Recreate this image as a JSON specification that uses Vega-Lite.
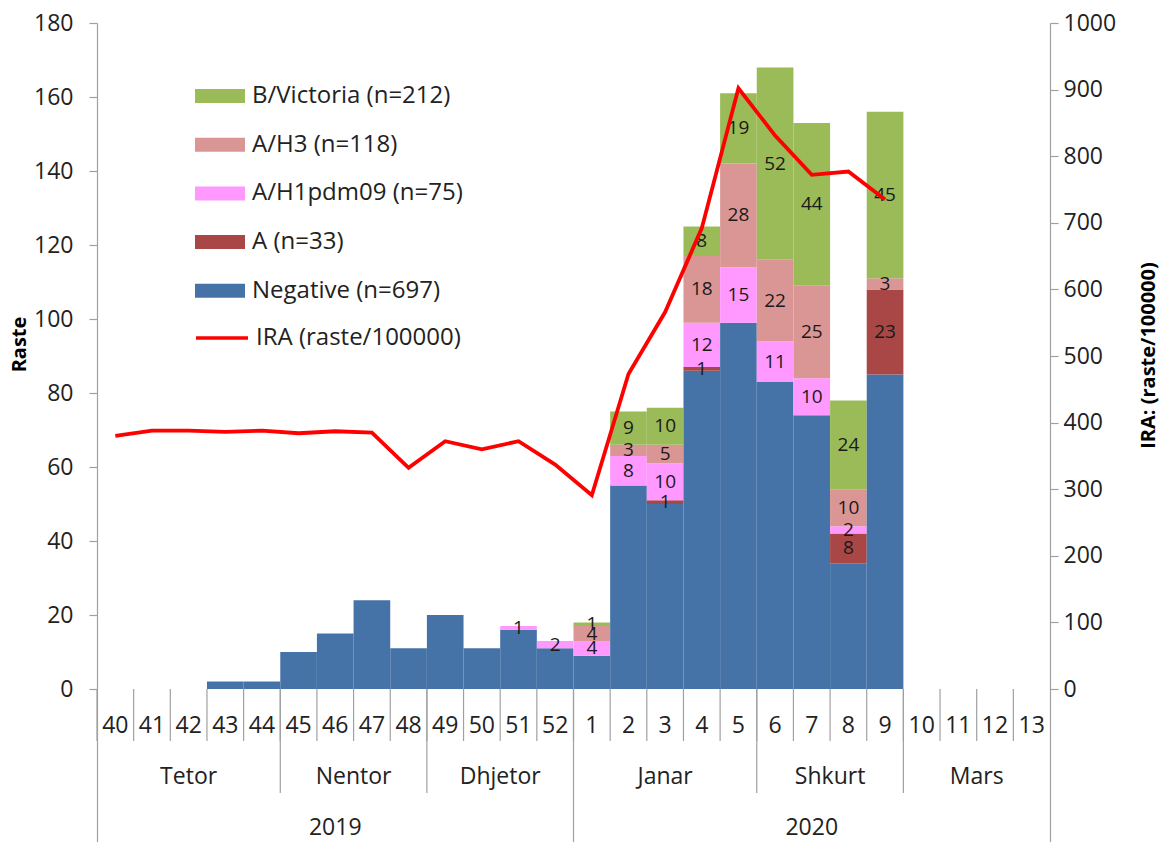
{
  "$schema": "https://vega.github.io/schema/vega-lite/v6.json",
  "autosize": "none",
  "padding": {"left": 97, "top": 23, "right": 112, "bottom": 0},
  "width": 953,
  "height": 819,
  "background": "white",
  "config": {"font": "Open Sans", "view": {"stroke": null}},
  "datasets": {
    "weeks": [
      {"week": "40"}, {"week": "41"}, {"week": "42"}, {"week": "43"}, {"week": "44"}, {"week": "45"}, {"week": "46"},
      {"week": "47"}, {"week": "48"}, {"week": "49"}, {"week": "50"}, {"week": "51"}, {"week": "52"},
      {"week": "1"}, {"week": "2"}, {"week": "3"}, {"week": "4"}, {"week": "5"}, {"week": "6"}, {"week": "7"},
      {"week": "8"}, {"week": "9"}, {"week": "10"}, {"week": "11"}, {"week": "12"}, {"week": "13"}
    ],
    "types": [
      {"type": "Negative (n=697)", "rank": 1},
      {"type": "A (n=33)", "rank": 2},
      {"type": "A/H1pdm09 (n=75)", "rank": 3},
      {"type": "A/H3 (n=118)", "rank": 4},
      {"type": "B/Victoria (n=212)", "rank": 5}
    ],
    "counts": [
      {"week": "43", "type": "Negative (n=697)", "count": 2},
      {"week": "44", "type": "Negative (n=697)", "count": 2},
      {"week": "45", "type": "Negative (n=697)", "count": 10},
      {"week": "46", "type": "Negative (n=697)", "count": 15},
      {"week": "47", "type": "Negative (n=697)", "count": 24},
      {"week": "48", "type": "Negative (n=697)", "count": 11},
      {"week": "49", "type": "Negative (n=697)", "count": 20},
      {"week": "50", "type": "Negative (n=697)", "count": 11},
      {"week": "51", "type": "Negative (n=697)", "count": 16},
      {"week": "51", "type": "A/H1pdm09 (n=75)", "count": 1},
      {"week": "52", "type": "Negative (n=697)", "count": 11},
      {"week": "52", "type": "A/H1pdm09 (n=75)", "count": 2},
      {"week": "1", "type": "Negative (n=697)", "count": 9},
      {"week": "1", "type": "A/H1pdm09 (n=75)", "count": 4},
      {"week": "1", "type": "A/H3 (n=118)", "count": 4},
      {"week": "1", "type": "B/Victoria (n=212)", "count": 1},
      {"week": "2", "type": "Negative (n=697)", "count": 55},
      {"week": "2", "type": "A/H1pdm09 (n=75)", "count": 8},
      {"week": "2", "type": "A/H3 (n=118)", "count": 3},
      {"week": "2", "type": "B/Victoria (n=212)", "count": 9},
      {"week": "3", "type": "Negative (n=697)", "count": 50},
      {"week": "3", "type": "A (n=33)", "count": 1},
      {"week": "3", "type": "A/H1pdm09 (n=75)", "count": 10},
      {"week": "3", "type": "A/H3 (n=118)", "count": 5},
      {"week": "3", "type": "B/Victoria (n=212)", "count": 10},
      {"week": "4", "type": "Negative (n=697)", "count": 86},
      {"week": "4", "type": "A (n=33)", "count": 1},
      {"week": "4", "type": "A/H1pdm09 (n=75)", "count": 12},
      {"week": "4", "type": "A/H3 (n=118)", "count": 18},
      {"week": "4", "type": "B/Victoria (n=212)", "count": 8},
      {"week": "5", "type": "Negative (n=697)", "count": 99},
      {"week": "5", "type": "A/H1pdm09 (n=75)", "count": 15},
      {"week": "5", "type": "A/H3 (n=118)", "count": 28},
      {"week": "5", "type": "B/Victoria (n=212)", "count": 19},
      {"week": "6", "type": "Negative (n=697)", "count": 83},
      {"week": "6", "type": "A/H1pdm09 (n=75)", "count": 11},
      {"week": "6", "type": "A/H3 (n=118)", "count": 22},
      {"week": "6", "type": "B/Victoria (n=212)", "count": 52},
      {"week": "7", "type": "Negative (n=697)", "count": 74},
      {"week": "7", "type": "A/H1pdm09 (n=75)", "count": 10},
      {"week": "7", "type": "A/H3 (n=118)", "count": 25},
      {"week": "7", "type": "B/Victoria (n=212)", "count": 44},
      {"week": "8", "type": "Negative (n=697)", "count": 34},
      {"week": "8", "type": "A (n=33)", "count": 8},
      {"week": "8", "type": "A/H1pdm09 (n=75)", "count": 2},
      {"week": "8", "type": "A/H3 (n=118)", "count": 10},
      {"week": "8", "type": "B/Victoria (n=212)", "count": 24},
      {"week": "9", "type": "Negative (n=697)", "count": 85},
      {"week": "9", "type": "A (n=33)", "count": 23},
      {"week": "9", "type": "A/H3 (n=118)", "count": 3},
      {"week": "9", "type": "B/Victoria (n=212)", "count": 45}
    ],
    "ira": [
      {"week": "40", "ira": 380}, {"week": "41", "ira": 388}, {"week": "42", "ira": 388}, {"week": "43", "ira": 386},
      {"week": "44", "ira": 388}, {"week": "45", "ira": 384}, {"week": "46", "ira": 387}, {"week": "47", "ira": 385},
      {"week": "48", "ira": 332}, {"week": "49", "ira": 372}, {"week": "50", "ira": 360}, {"week": "51", "ira": 372},
      {"week": "52", "ira": 337}, {"week": "1", "ira": 291}, {"week": "2", "ira": 473}, {"week": "3", "ira": 566},
      {"week": "4", "ira": 692}, {"week": "5", "ira": 902}, {"week": "6", "ira": 831}, {"week": "7", "ira": 772},
      {"week": "8", "ira": 777}, {"week": "9", "ira": 735}
    ],
    "sepMonth": [{"week": "45"}, {"week": "49"}, {"week": "6"}, {"week": "10"}],
    "sepYear": [{"week": "1"}],
    "monthsMid": [{"label": "Tetor", "week": "42"}, {"label": "Janar", "week": "3"}],
    "monthsEdge": [{"label": "Nentor", "week": "47"}, {"label": "Dhjetor", "week": "51"}, {"label": "Shkurt", "week": "8"}, {"label": "Mars", "week": "12"}],
    "years": [{"label": "2019", "week": "46"}, {"label": "2020", "week": "7"}]
  },
  "layer": [
    {
      "layer": [
        {
          "data": {"name": "counts"},
          "transform": [
            {"lookup": "type", "from": {"data": {"name": "types"}, "key": "type", "fields": ["rank"]}}
          ],
          "mark": {"type": "bar"},
          "encoding": {
            "x": {
              "field": "week", "type": "ordinal",
              "scale": {"type": "band", "domain": ["40","41","42","43","44","45","46","47","48","49","50","51","52","1","2","3","4","5","6","7","8","9","10","11","12","13"], "paddingInner": 0, "paddingOuter": 0},
              "axis": null
            },
            "y": {
              "field": "count", "type": "quantitative", "stack": "zero",
              "scale": {"domain": [-41.35, 180], "nice": false, "zero": false},
              "axis": {"title": "Raste", "titleFontSize": 20, "titleFontWeight": "bold", "titleColor": "#000000", "titlePadding": 4, "titleY": 321,
                "values": [0, 20, 40, 60, 80, 100, 120, 140, 160, 180], "grid": false,
                "domainColor": "#A0A0A0", "domainWidth": 1.2, "tickColor": "#A0A0A0", "tickSize": 8, "tickWidth": 1.2,
                "labelFontSize": 23, "labelColor": "#222222", "labelPadding": 16}
            },
            "color": {
              "field": "type", "type": "nominal",
              "scale": {
                "domain": ["B/Victoria (n=212)", "A/H3 (n=118)", "A/H1pdm09 (n=75)", "A (n=33)", "Negative (n=697)"],
                "range": ["#9BBB59", "#DA9694", "#FF99FF", "#A84745", "#4673A7"]
              },
              "legend": {"orient": "none", "legendX": 98, "legendY": 48, "title": null, "padding": 0,
                "symbolType": "M-1,-0.28H1V0.28H-1Z", "symbolSize": 2500, "symbolStrokeWidth": 0, "symbolOpacity": 1,
                "labelFontSize": 24, "labelColor": "#222222", "labelOffset": 7, "rowPadding": 11.7, "labelLimit": 400}
            },
            "order": {"field": "rank", "type": "quantitative"}
          }
        },
        {
          "data": {"name": "counts"},
          "transform": [
            {"lookup": "type", "from": {"data": {"name": "types"}, "key": "type", "fields": ["rank"]}},
            {"stack": "count", "groupby": ["week"], "sort": [{"field": "rank", "order": "ascending"}], "as": ["s0", "s1"]},
            {"filter": "datum.type !== 'Negative (n=697)'"},
            {"fold": ["s0", "s1"], "as": ["edge", "pos"]},
            {"aggregate": [{"op": "mean", "field": "pos", "as": "mid"}], "groupby": ["week", "type", "count"]}
          ],
          "mark": {"type": "text", "fontSize": 19, "color": "#1A1A1A", "baseline": "middle", "align": "center"},
          "encoding": {
            "x": {"field": "week", "type": "ordinal"},
            "y": {"field": "mid", "type": "quantitative"},
            "text": {"field": "count", "type": "quantitative"}
          }
        },
        {
          "mark": {"type": "rule", "color": "#A0A0A0", "strokeWidth": 1.2},
          "encoding": {"y": {"datum": 0, "type": "quantitative"}}
        },
        {
          "data": {"name": "weeks"},
          "mark": {"type": "rule", "color": "#A0A0A0", "strokeWidth": 1.2},
          "encoding": {
            "x": {"field": "week", "type": "ordinal", "bandPosition": 0},
            "y": {"datum": 0, "type": "quantitative"},
            "y2": {"datum": -14.05}
          }
        },
        {
          "data": {"name": "sepMonth"},
          "mark": {"type": "rule", "color": "#A0A0A0", "strokeWidth": 1.2},
          "encoding": {
            "x": {"field": "week", "type": "ordinal", "bandPosition": 0},
            "y": {"datum": 0, "type": "quantitative"},
            "y2": {"datum": -28.1}
          }
        },
        {
          "data": {"name": "sepYear"},
          "mark": {"type": "rule", "color": "#A0A0A0", "strokeWidth": 1.2},
          "encoding": {
            "x": {"field": "week", "type": "ordinal", "bandPosition": 0},
            "y": {"datum": 0, "type": "quantitative"},
            "y2": {"datum": -41.35}
          }
        },
        {
          "data": {"name": "weeks"},
          "mark": {"type": "text", "fontSize": 23, "color": "#222222", "baseline": "middle", "align": "center"},
          "encoding": {
            "x": {"field": "week", "type": "ordinal", "bandPosition": 0.5},
            "y": {"datum": -10, "type": "quantitative"},
            "text": {"field": "week", "type": "nominal"}
          }
        },
        {
          "data": {"name": "monthsMid"},
          "mark": {"type": "text", "fontSize": 23, "color": "#222222", "baseline": "middle", "align": "center"},
          "encoding": {
            "x": {"field": "week", "type": "ordinal", "bandPosition": 0.5},
            "y": {"datum": -23.8, "type": "quantitative"},
            "text": {"field": "label", "type": "nominal"}
          }
        },
        {
          "data": {"name": "monthsEdge"},
          "mark": {"type": "text", "fontSize": 23, "color": "#222222", "baseline": "middle", "align": "center"},
          "encoding": {
            "x": {"field": "week", "type": "ordinal", "bandPosition": 0},
            "y": {"datum": -23.8, "type": "quantitative"},
            "text": {"field": "label", "type": "nominal"}
          }
        },
        {
          "data": {"name": "years"},
          "mark": {"type": "text", "fontSize": 23, "color": "#222222", "baseline": "middle", "align": "center"},
          "encoding": {
            "x": {"field": "week", "type": "ordinal", "bandPosition": 0.5},
            "y": {"datum": -37.6, "type": "quantitative"},
            "text": {"field": "label", "type": "nominal"}
          }
        }
      ]
    },
    {
      "data": {"name": "ira"},
      "mark": {"type": "line", "strokeWidth": 3.8},
      "encoding": {
        "x": {"field": "week", "type": "ordinal"},
        "y": {
          "field": "ira", "type": "quantitative",
          "scale": {"domain": [-229.7, 1000], "nice": false, "zero": false},
          "axis": {"orient": "right", "title": "IRA: (raste/100000)", "titleAngle": 270, "titleFontSize": 20, "titleFontWeight": "bold", "titleColor": "#000000", "titlePadding": 43, "titleY": 332,
            "values": [0, 100, 200, 300, 400, 500, 600, 700, 800, 900, 1000], "format": "d", "grid": false,
            "domainColor": "#A0A0A0", "domainWidth": 1.2, "tickColor": "#A0A0A0", "tickSize": 8, "tickWidth": 1.2,
            "labelFontSize": 23, "labelColor": "#222222", "labelPadding": 5}
        },
        "stroke": {
          "datum": "IRA (raste/100000)",
          "scale": {"range": ["#FF0000"]},
          "legend": {"orient": "none", "legendX": 97, "legendY": 287, "title": null, "padding": 0,
            "symbolType": "stroke", "symbolSize": 2700, "symbolStrokeWidth": 3.5,
            "labelFontSize": 24, "labelColor": "#222222", "labelOffset": 6, "labelLimit": 400}
        },
        "order": {"value": null}
      }
    }
  ],
  "resolve": {"scale": {"y": "independent"}}
}
